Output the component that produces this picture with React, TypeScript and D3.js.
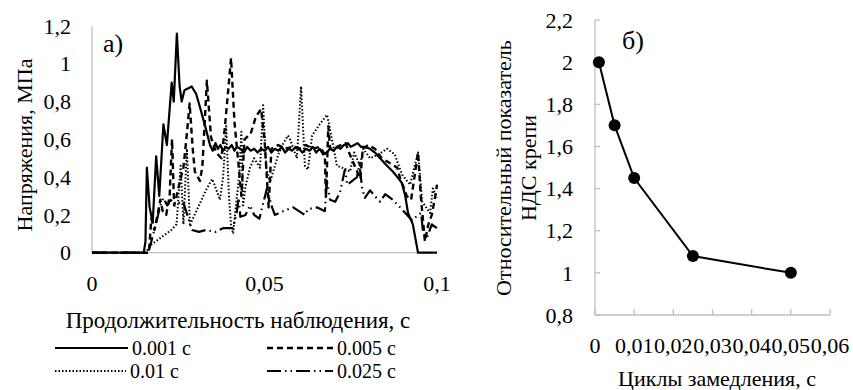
import React from "react";
import * as d3 from "d3";

const FONT = "\"Liberation Serif\"";

// ---- chart a): stresses over observation time ----
const timeTicks = [0, 0.05, 0.1];
const stressTicks = [0, 0.2, 0.4, 0.6, 0.8, 1, 1.2];

const s001: [number, number][] = [
  [0, 0], [0.015, 0], [0.0155, 0.06], [0.0159, 0.45], [0.0167, 0.24], [0.0176, 0.16], [0.0186, 0.51],
  [0.0195, 0.3], [0.0207, 0.68], [0.0217, 0.57], [0.0231, 0.9], [0.0237, 0.8], [0.0246, 1.16], [0.0254, 0.88],
  [0.026, 0.8], [0.0268, 0.86], [0.0279, 0.87], [0.0289, 0.88], [0.0302, 0.84], [0.0313, 0.77], [0.0328, 0.67],
  [0.0342, 0.57], [0.035, 0.54], [0.0358, 0.58], [0.0365, 0.55], [0.0372, 0.57], [0.038, 0.54], [0.0388, 0.56],
  [0.0396, 0.55], [0.0405, 0.57], [0.0413, 0.54], [0.042, 0.56], [0.043, 0.55], [0.044, 0.53], [0.045, 0.56],
  [0.046, 0.54], [0.047, 0.55], [0.048, 0.53], [0.049, 0.55], [0.05, 0.54], [0.051, 0.56], [0.052, 0.53],
  [0.053, 0.55], [0.054, 0.54], [0.055, 0.56], [0.056, 0.53], [0.057, 0.55], [0.058, 0.54], [0.059, 0.56],
  [0.06, 0.55], [0.061, 0.53], [0.062, 0.55], [0.063, 0.54], [0.064, 0.56], [0.065, 0.53], [0.066, 0.55],
  [0.067, 0.52], [0.068, 0.53], [0.069, 0.55], [0.07, 0.54], [0.071, 0.56], [0.072, 0.55], [0.073, 0.57],
  [0.0742, 0.58], [0.075, 0.56], [0.076, 0.57], [0.077, 0.58], [0.078, 0.56], [0.079, 0.56], [0.0806, 0.55],
  [0.082, 0.53], [0.0835, 0.5], [0.0855, 0.46], [0.0872, 0.43], [0.0885, 0.4], [0.0898, 0.37], [0.0908, 0.3],
  [0.0916, 0.21], [0.093, 0.15], [0.0941, 0.04], [0.0945, 0], [0.1, 0],
];

const s005: [number, number][] = [
  [0, 0], [0.0165, 0], [0.0172, 0.18], [0.0181, 0.12], [0.019, 0.2], [0.0198, 0.28], [0.0205, 0.22],
  [0.0215, 0.2], [0.0225, 0.3], [0.0232, 0.6], [0.0238, 0.25], [0.0245, 0.3], [0.0255, 0.38], [0.0265, 0.45],
  [0.0275, 0.63], [0.0283, 0.79], [0.0292, 0.55], [0.0298, 0.43], [0.0313, 0.38], [0.032, 0.46], [0.0333, 0.91],
  [0.0345, 0.61], [0.036, 0.53], [0.0375, 0.5], [0.0385, 0.66], [0.0403, 1.03], [0.0413, 0.69], [0.0425, 0.46],
  [0.0433, 0.3], [0.0442, 0.6], [0.046, 0.63], [0.0475, 0.72], [0.049, 0.76], [0.05, 0.6], [0.0508, 0.36],
  [0.0512, 0.24], [0.052, 0.55], [0.054, 0.57], [0.056, 0.55], [0.058, 0.56], [0.06, 0.55], [0.062, 0.57],
  [0.064, 0.55], [0.066, 0.56], [0.0675, 0.52], [0.0678, 0.29], [0.0685, 0.67], [0.069, 0.55], [0.071, 0.56],
  [0.0735, 0.58], [0.0745, 0.53], [0.0778, 0.39], [0.0785, 0.55], [0.08, 0.57], [0.082, 0.55], [0.084, 0.5],
  [0.0885, 0.45], [0.0895, 0.38], [0.0905, 0.34], [0.0912, 0.3], [0.0925, 0.28], [0.0945, 0.53], [0.0953, 0.3],
  [0.0965, 0.06], [0.0975, 0.15], [0.0985, 0.2], [0.0995, 0.3], [0.1, 0.36],
];

const s01: [number, number][] = [
  [0, 0], [0.0155, 0], [0.017, 0.04], [0.02, 0.08], [0.023, 0.12], [0.0245, 0.15], [0.0257, 0.46],
  [0.0265, 0.15], [0.0275, 0.55], [0.0284, 0.15], [0.029, 0.17], [0.031, 0.25], [0.033, 0.33], [0.0348, 0.39],
  [0.0355, 0.36], [0.0371, 0.28], [0.038, 0.4], [0.0389, 0.67], [0.0397, 0.3], [0.0403, 0.15], [0.0409, 0.1],
  [0.042, 0.3], [0.0427, 0.41], [0.0433, 0.64], [0.0438, 0.25], [0.0445, 0.35], [0.0458, 0.45], [0.047, 0.5],
  [0.0487, 0.45], [0.0496, 0.78], [0.0505, 0.45], [0.0516, 0.37], [0.0522, 0.41], [0.054, 0.52], [0.0555, 0.58],
  [0.0568, 0.62], [0.0574, 0.6], [0.0594, 0.5], [0.0606, 0.88], [0.0617, 0.46], [0.0626, 0.44], [0.0638, 0.62],
  [0.066, 0.68], [0.0681, 0.73], [0.0686, 0.69], [0.071, 0.46], [0.0725, 0.45], [0.0748, 0.43], [0.076, 0.53],
  [0.0777, 0.46], [0.0786, 0.55], [0.0806, 0.5], [0.083, 0.52], [0.0855, 0.55], [0.0878, 0.52], [0.0887, 0.47],
  [0.09, 0.41], [0.0922, 0.36], [0.0945, 0.53], [0.0957, 0.27], [0.098, 0.21], [0.0988, 0.34], [0.1, 0.29],
];

const s025: [number, number][] = [
  [0, 0], [0.0162, 0], [0.0172, 0.06], [0.0185, 0.15], [0.0198, 0.25], [0.0207, 0.29], [0.0218, 0.25],
  [0.0228, 0.28], [0.024, 0.25], [0.0258, 0.27], [0.0264, 0.27], [0.029, 0.12], [0.031, 0.11], [0.033, 0.12],
  [0.0357, 0.11], [0.038, 0.13], [0.0409, 0.13], [0.042, 0.22], [0.0425, 0.29], [0.043, 0.19], [0.0445, 0.2],
  [0.0458, 0.25], [0.047, 0.2], [0.0485, 0.18], [0.0507, 0.34], [0.0522, 0.24], [0.053, 0.2], [0.0554, 0.22],
  [0.0583, 0.24], [0.06, 0.22], [0.0617, 0.2], [0.0626, 0.23], [0.0652, 0.24], [0.0675, 0.22], [0.0681, 0.38],
  [0.069, 0.28], [0.0705, 0.27], [0.0719, 0.32], [0.0733, 0.44], [0.074, 0.36], [0.0768, 0.4], [0.0775, 0.47],
  [0.0783, 0.34], [0.0791, 0.29], [0.0806, 0.33], [0.082, 0.3], [0.0835, 0.27], [0.085, 0.31], [0.0872, 0.28],
  [0.0893, 0.24], [0.0928, 0.17], [0.0945, 0.2], [0.0954, 0.21], [0.096, 0.1], [0.0971, 0.08], [0.0985, 0.15],
  [0.1, 0.13],
];

const seriesNames = ["0.001 с", "0.005 с", "0.01 с", "0.025 с"];
const seriesData = [s001, s005, s01, s025];
const seriesDash = ["none", "6,4", "1.5,2", "14,4,1.5,4,1.5,4"];
const seriesWidth = [2.2, 2.4, 2, 2.2];

// ---- chart б): index vs deceleration cycles ----
const cycleTicks = [0, 0.01, 0.02, 0.03, 0.04, 0.05, 0.06];
const indexTicks = [0.8, 1, 1.2, 1.4, 1.6, 1.8, 2, 2.2];
const cycles = [0.001, 0.005, 0.01, 0.025, 0.05];
const ndsIndex = [2, 1.7, 1.45, 1.08, 1];

const comma = (v: number) => String(v).replace(".", ",");
const AXIS = "#bfbfbf";

// text with the serif font set on the element itself
const T = (props: any) => {
  const { size = 22, children, ...rest } = props;
  return (
    <text dy="0.35em" fill="#000" {...rest} style={{ fontFamily: FONT, fontSize: size }}>
      {children}
    </text>
  );
};

export default function App() {
  // chart a) scales
  const xA = d3.scaleLinear().domain([0, 0.1]).range([92, 437]);
  const yA = d3.scaleLinear().domain([0, 1.2]).range([252.7, 26]);
  const lineA = d3.line<[number, number]>().x(d => xA(d[0])).y(d => yA(d[1]));

  // chart б) scales
  const xB = d3.scaleLinear().domain([0, 0.06]).range([595, 830]);
  const yB = d3.scaleLinear().domain([0.8, 2.2]).range([315, 20]);
  const pts = cycles.map((c, i) => [c, ndsIndex[i]] as [number, number]);
  const lineB = d3.line<[number, number]>().x(d => xB(d[0])).y(d => yB(d[1]));

  const legendPos = [
    { x: 55, y: 348, len: 73 }, { x: 267, y: 348, len: 66 },
    { x: 55, y: 371, len: 71 }, { x: 267, y: 371, len: 66 },
  ];

  return (
    <svg width={853} height={390} style={{ position: "absolute", left: 0, top: 0, background: "#fff" }}>
      {/* ---- a) ---- */}
      <line x1={xA(0)} x2={xA(0)} y1={yA(1.2)} y2={yA(0)} stroke={AXIS} strokeWidth={1.3} />
      <line x1={xA(0)} x2={xA(0.1)} y1={yA(0)} y2={yA(0)} stroke={AXIS} strokeWidth={1.3} />
      {stressTicks.map(t => (
        <T key={t} x={71} y={yA(t)} textAnchor="end">{comma(t)}</T>
      ))}
      {timeTicks.map(t => (
        <T key={t} x={xA(t)} y={283} textAnchor="middle">{comma(t)}</T>
      ))}
      {seriesData.map((s, i) => (
        <path key={i} d={lineA(s) || ""} fill="none" stroke="#000" strokeWidth={seriesWidth[i]}
          strokeDasharray={seriesDash[i]} strokeLinejoin="round" />
      ))}
      <T x={103} y={43} size={26}>а)</T>
      <T transform="translate(24,145) rotate(-90)" textAnchor="middle">Напряжения, МПа</T>
      <T x={238} y={320} textAnchor="middle" size={23}>Продолжительность наблюдения, с</T>
      {seriesNames.map((n, i) => (
        <g key={n}>
          <line x1={legendPos[i].x} x2={legendPos[i].x + legendPos[i].len} y1={legendPos[i].y} y2={legendPos[i].y}
            stroke="#000" strokeWidth={seriesWidth[i]} strokeDasharray={seriesDash[i]} />
          <T x={legendPos[i].x + legendPos[i].len + 4} y={legendPos[i].y} size={20}>{n}</T>
        </g>
      ))}

      {/* ---- б) ---- */}
      <line x1={xB(0)} x2={xB(0)} y1={yB(2.2)} y2={yB(0.8)} stroke={AXIS} strokeWidth={1.3} />
      <line x1={xB(0)} x2={xB(0.06)} y1={yB(0.8)} y2={yB(0.8)} stroke={AXIS} strokeWidth={1.3} />
      {indexTicks.map(t => (
        <g key={t}>
          <line x1={xB(0)} x2={xB(0) + 5} y1={yB(t)} y2={yB(t)} stroke={AXIS} strokeWidth={1.3} />
          <T x={573} y={yB(t)} textAnchor="end">{comma(t)}</T>
        </g>
      ))}
      {cycleTicks.map(t => (
        <g key={t}>
          <line x1={xB(t)} x2={xB(t)} y1={yB(0.8)} y2={yB(0.8) - 6} stroke={AXIS} strokeWidth={1.3} />
          <T x={xB(t)} y={345} textAnchor="middle">{comma(t)}</T>
        </g>
      ))}
      <path d={lineB(pts) || ""} fill="none" stroke="#000" strokeWidth={2} />
      {pts.map((p, i) => (
        <circle key={i} cx={xB(p[0])} cy={yB(p[1])} r={6} fill="#000" />
      ))}
      <T x={633} y={40} textAnchor="middle" size={26}>б)</T>
      <T transform="translate(503,168) rotate(-90)" textAnchor="middle">Относительный показатель</T>
      <T transform="translate(528,168) rotate(-90)" textAnchor="middle">НДС крепи</T>
      <T x={717} y={378} textAnchor="middle">Циклы замедления, с</T>
    </svg>
  );
}
